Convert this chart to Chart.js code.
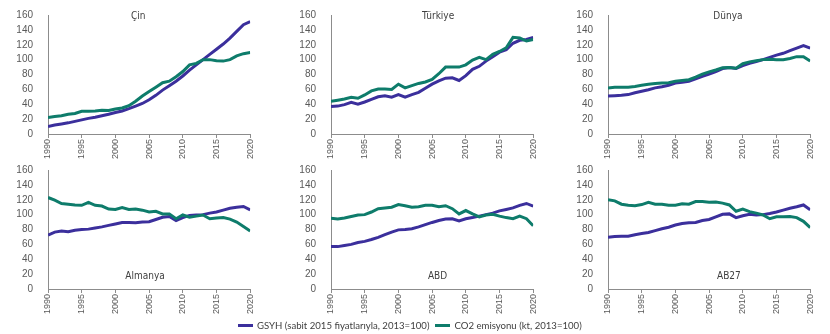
<!DOCTYPE html>
<html>
<head>
<meta charset="utf-8">
<script src="https://cdn.jsdelivr.net/npm/chart.js@4.4.1/dist/chart.umd.min.js"></script>
<style>
  html, body { margin: 0; padding: 0; background: #fff; }
  body { width: 830px; height: 334px; position: relative; overflow: hidden; }
  canvas { position: absolute; }
  .legend {
    position: absolute; left: 238px; top: 320px;
    display: flex; align-items: center;
    font-family: Lato, "Open Sans", sans-serif; font-size: 9.6px; color: #404040;
    white-space: nowrap;
  }
  .legend .sw { display: inline-block; width: 15px; height: 3px; margin: 0 4px 0 0; }
  .legend .item { display: flex; align-items: center; margin-right: 6px; }
</style>
</head>
<body>
<canvas id="c0"></canvas>
<canvas id="c1"></canvas>
<canvas id="c2"></canvas>
<canvas id="c3"></canvas>
<canvas id="c4"></canvas>
<canvas id="c5"></canvas>
<div class="legend">
  <span class="item"><span class="sw" style="background:#3b2f9c"></span>GSYH (sabit 2015 fiyatlarıyla, 2013=100)</span>
  <span class="item"><span class="sw" style="background:#0e7c6b"></span>CO2 emisyonu (kt, 2013=100)</span>
</div>
<script>
const years = [1990,1991,1992,1993,1994,1995,1996,1997,1998,1999,2000,2001,2002,2003,2004,2005,2006,2007,2008,2009,2010,2011,2012,2013,2014,2015,2016,2017,2018,2019,2020]
const yTicks = { min: 0, max: 160, step: 20 }

const countries = ["Çin", "Türkiye", "Dünya", "Almanya", "ABD", "AB27"]

// GSYH (sabit 2015 fiyatlarıyla, 2013=100)
const gdpCin      = [10,12,13.5,15,17,19,21,22.5,24.5,26.5,29,31,34,37.5,41,46,52,59,65,71,78,86,93,100,107,114,121,129,138,147,151]
const gdpTurkiye  = [37,37.5,39.5,42.5,40,43,46.5,50,51.5,49.5,53,49.5,53,56,61.5,67,71.5,75,75.5,72,78.5,87,91,98,104,110,113.5,122,126,127,130]
const gdpDunya    = [51,51.5,52,53,55.5,57.5,59.5,62,63.5,65.5,68.5,69.5,71,74,77.5,80.5,84,88,89.5,88,92,95,97.5,100,103,106,108.5,112,115.5,119,115.5]
const gdpAlmanya  = [72.5,76.5,78,77,79,80,80.5,82,83.5,85.5,87.5,89.5,89.5,89,90,90.5,93.5,96.5,97.5,92,96,99,99.5,100,102,103.5,106,108.5,110,111,106.5]
const gdpABD      = [57,57,58.5,60,62.5,64,66.5,69.5,73,76.5,79.5,80,81,83.5,86.5,89.5,92,94,94.5,91.5,94.5,96,98,100,102,105,107,109,112.5,115,111.5]
const gdpAB27     = [69.5,70.5,71,71,73,74.5,76,78.5,81,83,86,88,89,89.5,92,93.5,97,100.5,101,96,98.5,100.5,99.5,100,101.5,103.5,106,108.5,110.5,113,106.5]

// CO2 emisyonu (kt, 2013=100)
const co2Cin      = [22,23.5,24.5,26.5,27.5,30.5,30.5,31,32,31.5,33.5,35,38,44,51,57,63,69,71,77,84,93,95,100,100,98.5,98,100,105,108,109.5]
const co2Turkiye  = [44,45.5,47,49.5,48,52.5,58,60.5,60.5,60,67,62,65,68,70,73.5,81,90,90,90,93,99.5,103,100,107,111,116,130,129,125,127]
const co2Dunya    = [62,63,63,63,64,65.5,67,68,68.5,69,71,72,73,76.5,80.5,83.5,86,89,89.5,88.5,94.5,97,98.5,100,100.5,100,100,101.5,104,104,98]
const co2Almanya  = [123,119.5,115,114,113,112.5,116.5,112.5,111.5,107.5,107,109.5,107,107.5,106,103.5,104.5,101,101,94.5,99.5,96.5,98,99.5,94.5,95.5,96,94,90,84,78]
const co2ABD      = [95,94,95.5,97.5,99.5,100,103.5,108,109,110,113.5,112,110,110.5,112.5,112.5,110.5,112,108,101,105.5,101,97,99.5,100.5,98,96,94.5,98,94.5,85]
const co2AB27     = [120,118.5,114,112.5,112,113.5,116.5,114,114,112.5,112.5,114.5,114,117.5,117.5,116.5,117,115.5,113,104.5,107.5,104,102,99.5,94.5,97,97,97.5,96,91,82.5]

const gdpSeries = [gdpCin, gdpTurkiye, gdpDunya, gdpAlmanya, gdpABD, gdpAB27]
const co2Series = [co2Cin, co2Turkiye, co2Dunya, co2Almanya, co2ABD, co2AB27]

const GDP_COLOR = "#3b2f9c"
const CO2_COLOR = "#0e7c6b"

// panel placement: canvas left/top, and where the country name sits inside the plot (fractions)
const panels = [
  { left: 0,   top: 0,   tx: 0.446, ty: 0.01 },
  { left: 283, top: 0,   tx: 0.53,  ty: 0.01 },
  { left: 560, top: 0,   tx: 0.593, ty: 0.01 },
  { left: 0,   top: 155, tx: 0.48,  ty: 0.89 },
  { left: 283, top: 155, tx: 0.527, ty: 0.89 },
  { left: 560, top: 155, tx: 0.598, ty: 0.89 }
]

const panelTitle = {
  id: "panelTitle",
  afterDatasetsDraw(chart, args, opts) {
    const { ctx, chartArea } = chart
    ctx.save()
    ctx.font = "10px 'Liberation Sans Narrow', 'DejaVu Sans Condensed', sans-serif"
    ctx.fillStyle = "#404040"
    ctx.textAlign = "center"
    ctx.textBaseline = "middle"
    const x = chartArea.left + opts.fx * (chartArea.right - chartArea.left)
    const y = chartArea.top + opts.fy * (chartArea.bottom - chartArea.top)
    ctx.fillText(opts.text, x, y)
    ctx.restore()
  }
}

const tickFont = { family: "'Liberation Sans', Arial, sans-serif" }

countries.forEach((name, i) => {
  const p = panels[i]
  const el = document.getElementById("c" + i)
  el.width = 262
  el.height = 160
  el.style.left = p.left + "px"
  el.style.top = p.top + "px"

  new Chart(el.getContext("2d"), {
    type: "line",
    data: {
      labels: years,
      datasets: [
        { label: "CO2 emisyonu (kt, 2013=100)", data: co2Series[i], borderColor: CO2_COLOR, borderWidth: 3, pointRadius: 0, tension: 0 },
        { label: "GSYH (sabit 2015 fiyatlarıyla, 2013=100)", data: gdpSeries[i], borderColor: GDP_COLOR, borderWidth: 3, pointRadius: 0, tension: 0 }
      ]
    },
    options: {
      responsive: false,
      animation: false,
      layout: { padding: { top: 15, right: 10, bottom: 0, left: 0 } },
      plugins: {
        legend: { display: false },
        tooltip: { enabled: false },
        panelTitle: { text: name, fx: p.tx, fy: p.ty }
      },
      scales: {
        x: {
          type: "linear",
          min: years[0],
          max: years[years.length - 1],
          afterFit: (s) => { s.height = 26 },
          border: { display: true, color: "#8c8c8c", width: 1 },
          grid: { display: true, drawOnChartArea: false, drawTicks: true, tickLength: 4, color: "#8c8c8c" },
          ticks: {
            stepSize: 5,
            autoSkip: false,
            minRotation: 90,
            maxRotation: 90,
            padding: 1,
            color: "#595959",
            font: { ...tickFont, size: 9 },
            callback: (v) => String(v)
          }
        },
        y: {
          min: yTicks.min,
          max: yTicks.max,
          afterFit: (s) => { s.width = 48 },
          border: { display: true, color: "#8c8c8c", width: 1 },
          grid: { display: false },
          ticks: {
            stepSize: yTicks.step,
            autoSkip: false,
            padding: 7,
            color: "#595959",
            font: { ...tickFont, size: 10 }
          }
        }
      }
    },
    plugins: [panelTitle]
  })
})
</script>
</body>
</html>
